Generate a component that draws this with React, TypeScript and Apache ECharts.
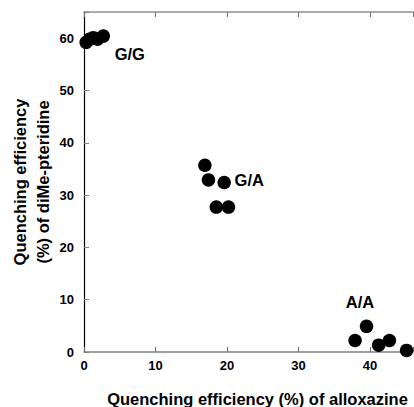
import React, { useEffect, useRef } from "react";
import * as echarts from "echarts";

const ggPoints: [number, number][] = [
  [0.3, 59.2],
  [0.8, 59.8],
  [1.3, 60.1],
  [1.9, 59.8],
  [2.7, 60.4],
];
const gaPoints: [number, number][] = [
  [16.9, 35.7],
  [17.4, 32.9],
  [19.6, 32.4],
  [18.5, 27.7],
  [20.2, 27.7],
];
const aaPoints: [number, number][] = [
  [37.9, 2.2],
  [39.5, 4.9],
  [41.2, 1.3],
  [42.7, 2.2],
  [45.1, 0.3],
];
const groupLabels = ["G/G", "G/A", "A/A"];
const labelAnchors: [number, number][] = [
  [6.4, 57.0],
  [23.1, 32.9],
  [38.6, 9.6],
];
const xTitle = "Quenching efficiency (%) of alloxazine";
const yTitle = "Quenching efficiency\n(%) of diMe-pteridine";

const FONT = "'Liberation Sans', Arial, Helvetica, sans-serif";

export default function App() {
  const ref = useRef<HTMLDivElement>(null);
  useEffect(() => {
    if (!ref.current) return;
    const chart = echarts.init(ref.current, undefined, { renderer: "svg" });
    const labelStyle = {
      color: "#000",
      fontFamily: FONT,
      fontWeight: "bold" as const,
      fontSize: 13,
    };
    chart.setOption({
      animation: false,
      backgroundColor: "#fff",
      grid: {
        left: 84,
        right: 1,
        top: 12,
        bottom: 55,
        containLabel: false,
        outerBoundsMode: "none",
      },
      xAxis: [
        {
          type: "value",
          min: 0,
          max: 46,
          interval: 10,
          position: "bottom",
          axisLine: { show: true, onZero: false, lineStyle: { color: "#808080", width: 1.5 } },
          axisTick: { show: true, inside: true, length: 5, lineStyle: { color: "#707070", width: 1 } },
          splitLine: { show: false },
          axisLabel: {
            ...labelStyle,
            margin: 7,
            formatter: (v: number) => (v % 10 === 0 ? String(v) : ""),
          },
          name: xTitle,
          nameLocation: "middle",
          nameGap: 38,
          nameMoveOverlap: false,
          nameTextStyle: {
            color: "#000",
            fontFamily: FONT,
            fontWeight: "bold",
            fontSize: 16.5,
            padding: [0, 0, 0, 18],
          },
        },
        {
          type: "value",
          min: 0,
          max: 46,
          interval: 10,
          position: "top",
          axisLine: { show: true, onZero: false, lineStyle: { color: "#909090", width: 1.5 } },
          axisTick: { show: true, inside: true, length: 5, lineStyle: { color: "#707070", width: 1 } },
          axisLabel: { show: false },
          splitLine: { show: false },
        },
      ],
      yAxis: {
        type: "value",
        min: 0,
        max: 65,
        interval: 10,
        axisLine: { show: true, onZero: false, lineStyle: { color: "#000", width: 1.2 } },
        axisTick: { show: true, inside: true, length: 5, lineStyle: { color: "#808080", width: 1 } },
        splitLine: { show: false },
        axisLabel: {
          ...labelStyle,
          margin: 10,
          formatter: (v: number) => (v % 10 === 0 ? String(v) : ""),
        },
        name: yTitle,
        nameLocation: "middle",
        nameGap: 30,
        nameMoveOverlap: false,
        nameTextStyle: {
          color: "#000",
          fontFamily: FONT,
          fontWeight: "bold",
          fontSize: 16.5,
          lineHeight: 23,
          align: "center",
        },
      },
      series: [
        ...[ggPoints, gaPoints, aaPoints].map((pts) => ({
          type: "scatter",
          data: pts,
          symbol: "circle",
          symbolSize: 13.5,
          itemStyle: { color: "#000", opacity: 1 },
          silent: true,
          z: 3,
        })),
        {
          type: "scatter",
          data: labelAnchors.map((p, i) => ({ value: p, name: groupLabels[i] })),
          symbol: "circle",
          symbolSize: 1,
          itemStyle: { color: "rgba(0,0,0,0)", opacity: 1 },
          label: {
            show: true,
            position: "inside",
            formatter: (p: any) => p.name,
            color: "#000",
            opacity: 1,
            fontFamily: FONT,
            fontWeight: "bold",
            fontSize: 16.5,
          },
          labelLayout: { hideOverlap: false },
          silent: true,
          z: 4,
        },
      ],
    });
    return () => chart.dispose();
  }, []);
  return <div ref={ref} style={{ width: 414, height: 407, position: "absolute", left: 0, top: 0 }} />;
}
